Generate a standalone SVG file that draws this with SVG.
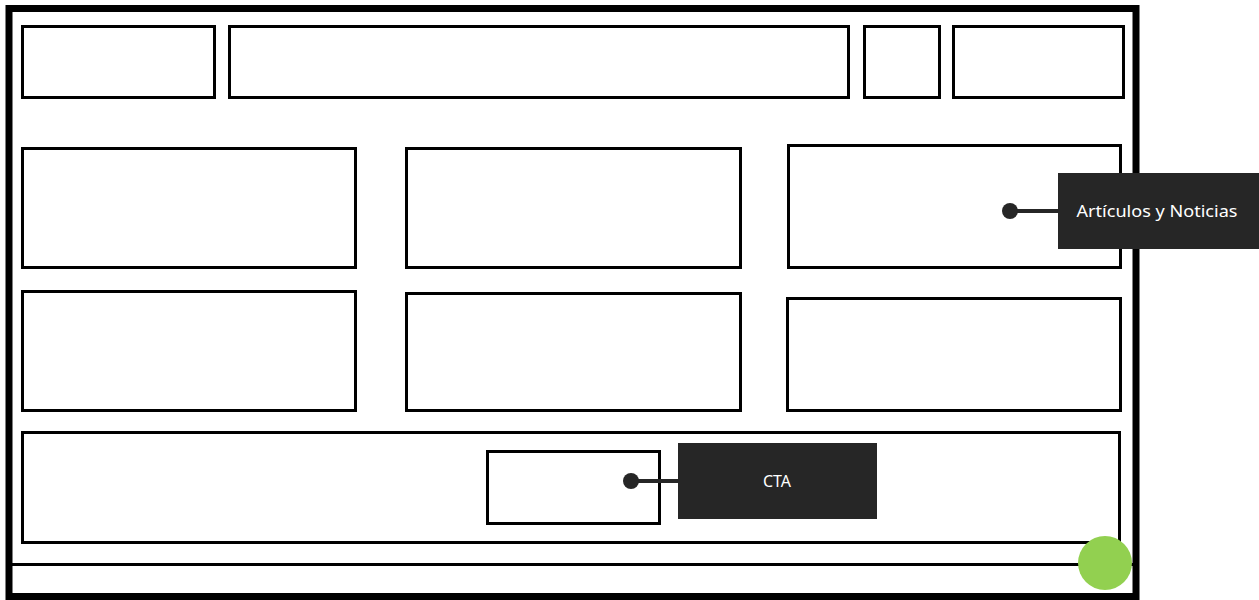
<svg xmlns="http://www.w3.org/2000/svg" width="1259" height="600" viewBox="0 0 1259 600">
<style>
.box{fill:#fff;stroke:#000;stroke-width:3}
.lbl{fill:#262626}
.txt{fill:#fff;font-family:"Noto Sans",sans-serif;font-size:16px;text-anchor:middle}
.con{stroke:#262626;stroke-width:4;fill:none}
.dot{fill:#262626}
</style>
<rect width="1259" height="600" fill="#fff"/>
<g id="frame">
<rect x="9" y="8.5" width="1127" height="588" fill="#fff" stroke="#000" stroke-width="7"/>
<line x1="12" y1="564.5" x2="1133" y2="564.5" stroke="#000" stroke-width="3"/>
</g>
<g id="header-logo"><rect class="box" x="22.5" y="26.5" width="192" height="71"/></g>
<g id="header-nav"><rect class="box" x="229.5" y="26.5" width="619" height="71"/></g>
<g id="header-icon"><rect class="box" x="864.5" y="26.5" width="75" height="71"/></g>
<g id="header-btn"><rect class="box" x="953.5" y="26.5" width="170" height="71"/></g>
<g id="card-1"><rect class="box" x="22.5" y="148.5" width="333" height="119"/></g>
<g id="card-2"><rect class="box" x="406.5" y="148.5" width="334" height="119"/></g>
<g id="card-3"><rect class="box" x="788.5" y="145.5" width="332" height="122"/></g>
<g id="card-4"><rect class="box" x="22.5" y="291.5" width="333" height="119"/></g>
<g id="card-5"><rect class="box" x="406.5" y="293.5" width="334" height="117"/></g>
<g id="card-6"><rect class="box" x="787.5" y="298.5" width="333" height="112"/></g>
<g id="cta-section"><rect class="box" x="22.5" y="432.5" width="1097" height="110"/></g>
<g id="cta-button"><rect class="box" x="487.5" y="451.5" width="172" height="72"/></g>
<g id="connectors">
<line class="con" x1="1010" y1="211" x2="1060" y2="211"/>
<circle class="dot" cx="1010" cy="211" r="8"/>
<line class="con" x1="631" y1="481" x2="680" y2="481"/>
<circle class="dot" cx="631" cy="481" r="8"/>
</g>
<g id="label-articulos">
<rect class="lbl" x="1058" y="173" width="201" height="76"/>
<text class="txt" x="1157" y="217" textLength="161" lengthAdjust="spacingAndGlyphs">Artículos y Noticias</text>
</g>
<g id="label-cta">
<rect class="lbl" x="678" y="443" width="199" height="76"/>
<text class="txt" x="777" y="487">CTA</text>
</g>
<g id="status-dot"><circle cx="1105" cy="563" r="27" fill="#92D050"/></g>
</svg>
